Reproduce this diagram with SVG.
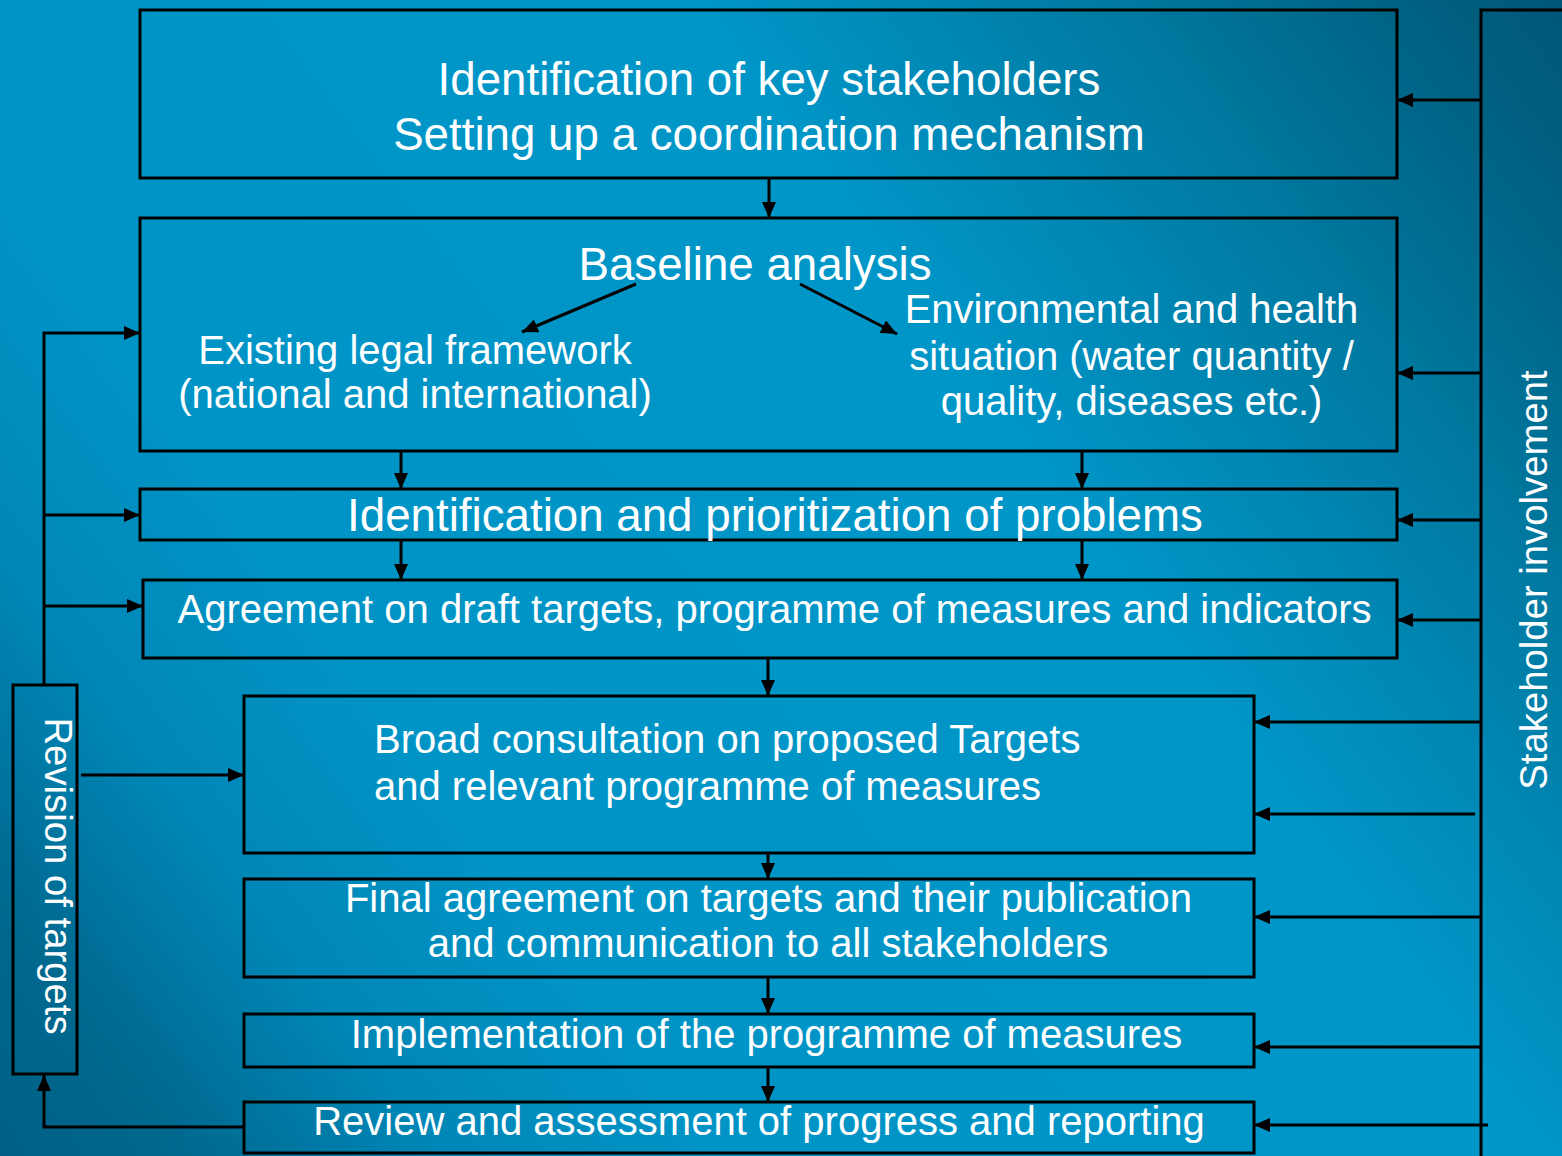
<svg xmlns="http://www.w3.org/2000/svg" width="1562" height="1156" viewBox="0 0 1562 1156">
<defs>
<linearGradient id="bg" gradientUnits="userSpaceOnUse" x1="0" y1="1156" x2="1562" y2="0">
<stop offset="0" stop-color="#005e86"/>
<stop offset="0.08" stop-color="#006990"/>
<stop offset="0.18" stop-color="#0086b6"/>
<stop offset="0.3" stop-color="#0094c6"/>
<stop offset="0.64" stop-color="#0096c8"/>
<stop offset="0.81" stop-color="#007aa2"/>
<stop offset="0.95" stop-color="#005e7f"/>
<stop offset="1" stop-color="#005778"/>
</linearGradient>
<marker id="ah" markerUnits="userSpaceOnUse" markerWidth="18" markerHeight="14" refX="16" refY="7" orient="auto">
<path d="M0,0 L16,7 L0,14 z" fill="#000"/>
</marker>
<style>
.box{fill:none;stroke:#000;stroke-width:3}
.c{fill:none;stroke:#000;stroke-width:3}
.a{marker-end:url(#ah)}
text{font-family:"Liberation Sans",Arial,sans-serif;fill:#fff}
.t1{font-size:45.7px;text-anchor:middle}
.t2{font-size:40px;text-anchor:middle}
.t3{font-size:38.3px;text-anchor:middle}
</style>
</defs>
<rect x="0" y="0" width="1562" height="1156" fill="url(#bg)"/>

<g id="stakeholder">
<rect class="box" x="1481" y="10" width="120" height="1200"/>
<text class="t3" transform="translate(1547,580) rotate(-90)">Stakeholder involvement</text>
</g>

<g id="revision">
<rect class="box" x="13" y="685" width="64" height="389"/>
<text class="t3" transform="translate(45,876) rotate(90)">Revision of targets</text>
</g>

<g id="n1">
<rect class="box" x="140" y="10" width="1257" height="168"/>
<text class="t1" x="769" y="95">Identification of key stakeholders</text>
<text class="t1" x="769" y="150">Setting up a coordination mechanism</text>
</g>

<g id="n2">
<rect class="box" x="140" y="218" width="1257" height="233"/>
<text class="t1" x="755" y="280">Baseline analysis</text>
<text class="t2" x="415" y="364">Existing legal framework</text>
<text class="t2" x="415" y="408">(national and international)</text>
<text class="t2" x="1131.5" y="323">Environmental and health</text>
<text class="t2" x="1131.5" y="370">situation (water quantity /</text>
<text class="t2" x="1131.5" y="415">quality, diseases etc.)</text>
</g>

<g id="n3">
<rect class="box" x="140" y="489" width="1257" height="51"/>
<text class="t1" x="775" y="531">Identification and prioritization of problems</text>
</g>

<g id="n4">
<rect class="box" x="143" y="580" width="1254" height="78"/>
<text class="t2" x="774.5" y="623">Agreement on draft targets, programme of measures and indicators</text>
</g>

<g id="n5">
<rect class="box" x="244" y="696" width="1010" height="157"/>
<text style="font-size:40px" x="374" y="753">Broad consultation on proposed Targets</text>
<text style="font-size:40px" x="374" y="800">and relevant programme of measures</text>
</g>

<g id="n6">
<rect class="box" x="244" y="879" width="1010" height="98"/>
<text class="t2" x="768.5" y="912">Final agreement on targets and their publication</text>
<text class="t2" x="768" y="957">and communication to all stakeholders</text>
</g>

<g id="n7">
<rect class="box" x="244" y="1014" width="1010" height="53"/>
<text class="t2" x="766.5" y="1048">Implementation of the programme of measures</text>
</g>

<g id="n8">
<rect class="box" x="244" y="1102" width="1010" height="51"/>
<text class="t2" x="759" y="1135">Review and assessment of progress and reporting</text>
</g>

<g id="connectors">
<path class="c a" d="M769,178 V218"/>
<path class="c a" d="M636,284 L522,332"/>
<path class="c a" d="M800,284 L897,334"/>
<path class="c a" d="M401,451 V489"/>
<path class="c a" d="M1082,451 V489"/>
<path class="c a" d="M401,540 V580"/>
<path class="c a" d="M1082,540 V580"/>
<path class="c a" d="M768,658 V696"/>
<path class="c a" d="M768,853 V879"/>
<path class="c a" d="M768,977 V1014"/>
<path class="c a" d="M768,1067 V1102"/>
<path class="c a" d="M44,685 V333 H140"/>
<path class="c a" d="M44,515 H140"/>
<path class="c a" d="M44,606 H143"/>
<path class="c a" d="M81,775 H244"/>
<path class="c a" d="M244,1127 H44 V1075"/>
<path class="c a" d="M1481,100 H1397"/>
<path class="c a" d="M1481,373 H1397"/>
<path class="c a" d="M1481,520 H1397"/>
<path class="c a" d="M1481,620 H1397"/>
<path class="c a" d="M1481,722 H1254"/>
<path class="c a" d="M1475,814 H1254"/>
<path class="c a" d="M1481,917 H1254"/>
<path class="c a" d="M1481,1047 H1254"/>
<path class="c a" d="M1488,1125 H1254"/>
</g>
</svg>
